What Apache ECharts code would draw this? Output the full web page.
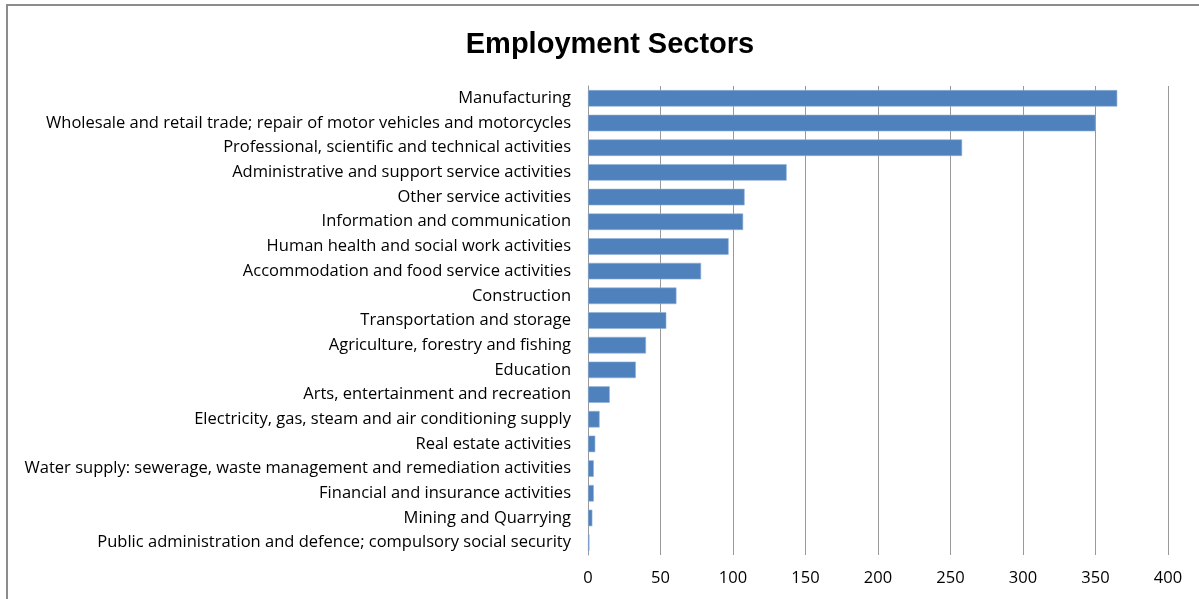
<!DOCTYPE html>
<html>
<head>
<meta charset="utf-8">
<script src="https://cdn.jsdelivr.net/npm/echarts@6/dist/echarts.min.js"></script>
<style>
  html, body { margin: 0; padding: 0; background: #fff; }
  #chart { width: 1199px; height: 599px; }
</style>
</head>
<body>
<div id="chart"></div>
<script>
// Employment by sector, listed from largest to smallest
const sectors = [
  'Manufacturing',
  'Wholesale and retail trade; repair of motor vehicles and motorcycles',
  'Professional, scientific and technical activities',
  'Administrative and support service activities',
  'Other service activities',
  'Information and communication',
  'Human health and social work activities',
  'Accommodation and food service activities',
  'Construction',
  'Transportation and storage',
  'Agriculture, forestry and fishing',
  'Education',
  'Arts, entertainment and recreation',
  'Electricity, gas, steam and air conditioning supply',
  'Real estate activities',
  'Water supply: sewerage, waste management and remediation activities',
  'Financial and insurance activities',
  'Mining and Quarrying',
  'Public administration and defence; compulsory social security'
];
const employees = [365, 350, 258, 137, 108, 107, 97, 78, 61, 54, 40, 33, 15, 8, 5, 4, 4, 3, 1];
const xTicks = [0, 50, 100, 150, 200, 250, 300, 350, 400];

const chart = echarts.init(document.getElementById('chart'), null, { renderer: 'canvas' });

const titleFont = '"Liberation Sans", Arial, sans-serif';
const labelFont = '"Open Sans", "Liberation Sans", sans-serif';

chart.setOption({
  animation: false,
  backgroundColor: '#ffffff',
  title: {
    text: 'Employment Sectors',
    left: 605,
    textAlign: 'center',
    top: 25,
    textStyle: { fontFamily: titleFont, fontWeight: 'bold', fontSize: 29, color: '#000' }
  },
  graphic: [{
    type: 'rect',
    shape: { x: 7, y: 5, width: 1300, height: 700 },
    style: { fill: 'none', stroke: '#8c8c8c', lineWidth: 2 },
    silent: true
  }],
  grid: { left: 588, right: 31, top: 86, bottom: 44, containLabel: false },
  xAxis: {
    type: 'value',
    min: xTicks[0],
    max: xTicks[xTicks.length - 1],
    interval: 50,
    axisLine: { show: false },
    axisTick: { show: false },
    axisLabel: { fontFamily: labelFont, fontSize: 16.5, color: '#000', margin: 15 },
    splitLine: { show: true, lineStyle: { color: '#999', width: 1 } }
  },
  yAxis: {
    type: 'category',
    data: sectors,
    inverse: true,
    axisLine: { show: true, lineStyle: { color: '#999' } },
    axisTick: { show: false },
    axisLabel: { fontFamily: labelFont, fontSize: 16.5, color: '#000', margin: 17, interval: 0 }
  },
  series: [{
    type: 'bar',
    data: employees,
    barCategoryGap: '33%',
    itemStyle: { color: '#4f81bd', borderColor: '#8fb0d8', borderWidth: 0.6 }
  }]
});
</script>
</body>
</html>
